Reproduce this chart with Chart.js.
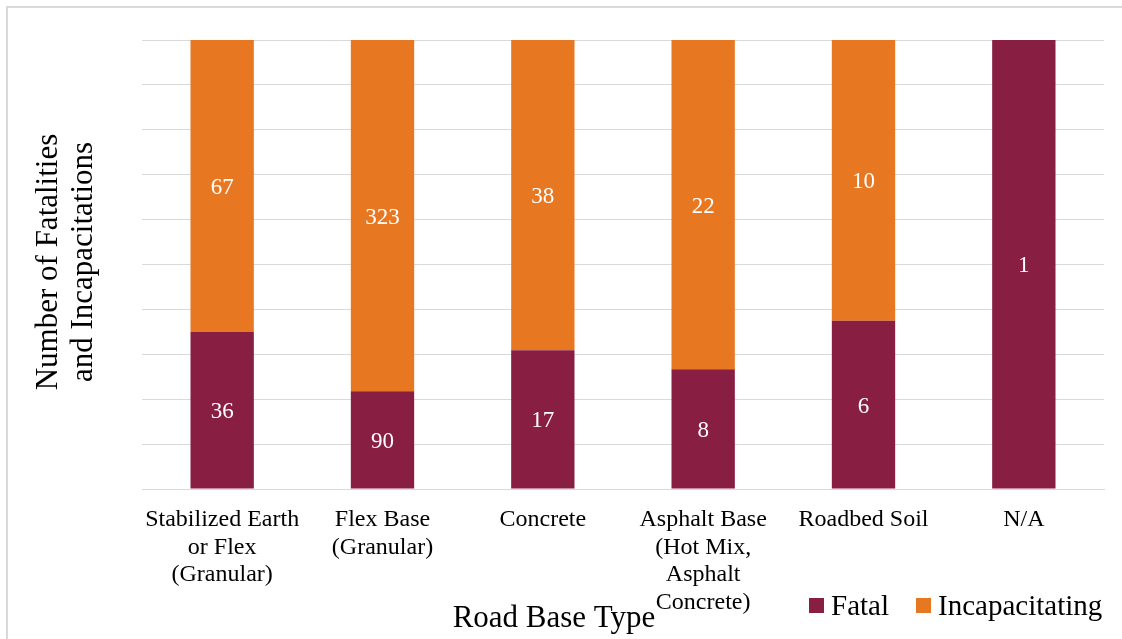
<!DOCTYPE html>
<html>
<head>
<meta charset="utf-8">
<script src="https://cdn.jsdelivr.net/npm/chart.js@4/dist/chart.umd.min.js"></script>
<style>
  html, body { margin: 0; padding: 0; background: #fff; }
  #wrap { width: 1122px; height: 639px; position: relative; }
</style>
</head>
<body>
<div id="wrap"><canvas id="roadChart"></canvas></div>
<script>
// Road base type categories (multi-line labels as drawn)
const categories = [
    ['Stabilized Earth', 'or Flex', '(Granular)'],
    ['Flex Base', '(Granular)'],
    ['Concrete'],
    ['Asphalt Base', '(Hot Mix,', 'Asphalt', 'Concrete)'],
    ['Roadbed Soil'],
    ['N/A']
];
const fatalCounts = [36, 90, 17, 8, 6, 1];
const incapCounts = [67, 323, 38, 22, 10, 0];
const yTicks = [0, 10, 20, 30, 40, 50, 60, 70, 80, 90, 100];

const FONT = '"Liberation Serif", "Times New Roman", serif';
const fatalColor = '#881E42';
const incapColor = '#E87722';
const gridColor = '#D9D9D9';

// 100% stacked: share of each category total
function toPercent(counts) {
    return counts.map((v, i) => {
        const total = fatalCounts[i] + incapCounts[i];
        return total ? (v / total) * 100 : 0;
    });
}

// frame, data labels, axis titles and legend
const decorPlugin = {
    id: 'decor',
    afterDatasetsDraw(chart) {
        const ctx = chart.ctx;
        ctx.save();
        ctx.fillStyle = '#fff';
        ctx.textAlign = 'center';
        ctx.textBaseline = 'middle';
        ctx.font = '23px ' + FONT;
        chart.data.datasets.forEach((ds, di) => {
            const meta = chart.getDatasetMeta(di);
            meta.data.forEach((bar, i) => {
                const raw = ds.rawCounts[i];
                if (!raw) return;
                const p = bar.getCenterPoint();
                ctx.fillText(String(raw), p.x, p.y + 2);
            });
        });
        ctx.restore();
    },
    afterDraw(chart) {
        const ctx = chart.ctx;
        ctx.save();
        // outer frame (top and left edges visible)
        ctx.strokeStyle = gridColor;
        ctx.lineWidth = 2;
        ctx.beginPath();
        ctx.moveTo(7, 639);
        ctx.lineTo(7, 7);
        ctx.lineTo(1122, 7);
        ctx.stroke();

        ctx.fillStyle = '#000';
        // x title
        ctx.font = '31px ' + FONT;
        ctx.textAlign = 'center';
        ctx.textBaseline = 'alphabetic';
        ctx.fillText('Road Base Type', 554, 627);

        // y title
        ctx.save();
        ctx.translate(57, 262);
        ctx.rotate(-Math.PI / 2);
        ctx.fillText('Number of Fatalities', 0, 0);
        ctx.fillText('and Incapacitations', 0, 35);
        ctx.restore();

        // legend
        ctx.font = '29px ' + FONT;
        ctx.textAlign = 'left';
        const items = [{ x: 809 }, { x: 916 }];
        chart.data.datasets.forEach((ds, i) => {
            const it = items[i];
            ctx.fillStyle = ds.backgroundColor;
            ctx.fillRect(it.x, 598, 15, 15);
            ctx.fillStyle = '#000';
            ctx.fillText(ds.label, it.x + 22, 615);
        });
        ctx.restore();
    }
};

new Chart(document.getElementById('roadChart'), {
    type: 'bar',
    data: {
        labels: categories,
        datasets: [
            {
                label: 'Fatal',
                data: toPercent(fatalCounts),
                rawCounts: fatalCounts,
                backgroundColor: fatalColor
            },
            {
                label: 'Incapacitating',
                data: toPercent(incapCounts),
                rawCounts: incapCounts,
                backgroundColor: incapColor
            }
        ]
    },
    options: {
        responsive: true,
        maintainAspectRatio: false,
        animation: false,
        layout: { padding: { left: 142, top: 40, right: 18, bottom: 0 } },
        datasets: {
            bar: { barPercentage: 0.395, categoryPercentage: 1.0 }
        },
        plugins: {
            legend: { display: false },
            tooltip: { enabled: false }
        },
        scales: {
            x: {
                stacked: true,
                grid: { display: false },
                border: { display: true, color: gridColor, width: 1 },
                ticks: {
                    color: '#000',
                    padding: 9,
                    maxRotation: 0,
                    autoSkip: false,
                    font: { family: FONT, size: 24, lineHeight: 1.15 }
                },
                afterFit(scale) { scale.height = 150; }
            },
            y: {
                stacked: true,
                min: 0,
                max: 100,
                afterBuildTicks(scale) { scale.ticks = yTicks.map(v => ({ value: v })); },
                ticks: { display: false },
                grid: { color: gridColor, lineWidth: 1, drawTicks: false },
                border: { display: false },
                afterFit(scale) { scale.width = 0; }
            }
        }
    },
    plugins: [decorPlugin]
});
</script>
</body>
</html>
